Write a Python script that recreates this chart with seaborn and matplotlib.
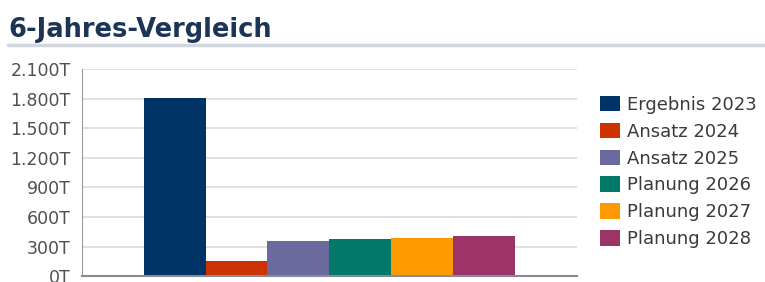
import seaborn as sns
import matplotlib
matplotlib.use("Agg")
import matplotlib.pyplot as plt
import pandas as pd
from matplotlib.ticker import FuncFormatter

# Werte in T (Tausend)
jahre = ["Ergebnis 2023", "Ansatz 2024", "Ansatz 2025",
         "Planung 2026", "Planung 2027", "Planung 2028"]
werte = [1810, 150, 355, 380, 385, 405]
farben = ["#003366", "#cc3300", "#6a6a9e", "#00786a", "#ff9900", "#9c3468"]
yticks = [0, 300, 600, 900, 1200, 1500, 1800, 2100]

df = pd.DataFrame({"gruppe": ["x"] * len(jahre), "jahr": jahre, "wert": werte})

sns.set_style("white")
plt.rcParams["font.family"] = ["DejaVu Sans"]

fig = plt.figure(figsize=(7.65, 2.82), dpi=100)
ax = fig.add_axes([0.107, 0.021, 0.647, 0.734])

sns.barplot(data=df, x="gruppe", y="wert", hue="jahr", hue_order=jahre,
            palette=farben, width=0.75, saturation=1, linewidth=0,
            ax=ax, legend=True)

ax.set_xlim(-0.5, 0.5)
ax.set_ylim(0, 2100)
ax.set_yticks(yticks)
ax.yaxis.set_major_formatter(FuncFormatter(lambda v, p: f"{v:,.0f}".replace(",", ".") + "T"))
ax.set_xticks([])
ax.set_xlabel("")
ax.set_ylabel("")
ax.grid(axis="y", color="#dcdcdc", linewidth=1.2)
ax.set_axisbelow(True)
for s in ["top", "right"]:
    ax.spines[s].set_visible(False)
ax.spines["left"].set_color("#9a9a9a")
ax.spines["bottom"].set_color("#8a8a99")
ax.spines["bottom"].set_linewidth(1.5)
ax.tick_params(axis="y", length=0, pad=8, labelsize=12.5, labelcolor="#505050")

handles, labels = ax.get_legend_handles_labels()
ax.legend(handles, labels, loc="upper left", bbox_to_anchor=(0.784, 0.66),
          bbox_transform=fig.transFigure, frameon=False, fontsize=13,
          handlelength=1.1, handleheight=0.95, handletextpad=0.4,
          labelspacing=0.49, borderaxespad=0, borderpad=0,
          labelcolor="#3a3a3a")

fig.text(0.011, 0.893, "6-Jahres-Vergleich", fontsize=18.5, fontweight="bold",
         color="#1c3557", va="center", ha="left")
fig.add_artist(plt.Line2D([0.011, 1.0], [0.84, 0.84], color="#d2d6de",
                          linewidth=2.5, transform=fig.transFigure))

fig.savefig("out.png", dpi=100)
